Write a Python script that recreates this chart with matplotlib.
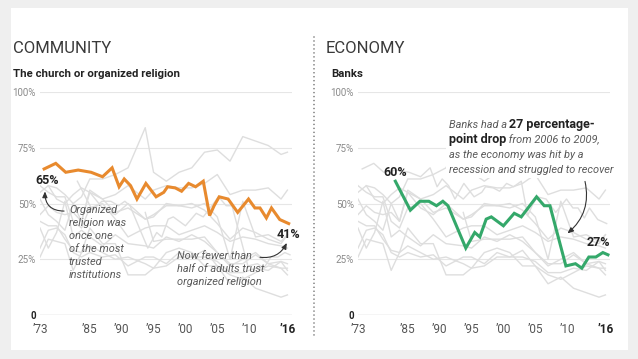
import numpy as np
import matplotlib.pyplot as plt
import matplotlib.transforms as mtransforms
from matplotlib.patches import Rectangle
from matplotlib.lines import Line2D

plt.rcParams['font.family'] = ['Roboto', 'DejaVu Sans']

# the chart squeezes the years before 1985
scale_years = [1900, 1973, 1985, 2100]
scale_pos = [1929.66, 1977.19, 1985, 2100]

tick_years = [1973, 1985, 1990, 1995, 2000, 2005, 2010, 2016]
tick_labels = ["\u201973", "\u201985", "\u201990", "\u201995", "\u201900", "\u201905", "\u201910", "\u201916"]

# highlighted series (share of adults with a great deal / quite a lot of confidence)
church_years = [1974.0, 1976.8, 1979.2, 1982.2, 1985.2, 1987.0, 1988.5, 1989.6, 1990.4, 1991.4,
                1992.4, 1993.8, 1995.4, 1996.6, 1997.2, 1998.4, 1999.4, 2000.5, 2001.6, 2002.8,
                2003.8, 2004.5, 2005.3, 2006.7, 2008.2, 2009.9, 2010.9, 2011.7, 2012.7, 2013.5,
                2014.8, 2016.2]
church = [65.5, 68, 64, 65, 64, 62, 66, 57.5, 61, 58, 52, 59, 53, 55, 57.5, 57, 55.5, 59, 57.5, 60,
          44.6, 49, 53, 52, 46, 52, 48, 48, 43.5, 48, 42.8, 41]

bank_years = [1982.0, 1985.4, 1986.9, 1988.3, 1989.5, 1990.5, 1991.3, 1994.1, 1995.5, 1996.3,
              1997.3, 1998.1, 2000.0, 2001.7, 2002.8, 2005.2, 2006.4, 2007.3, 2009.8, 2011.3,
              2012.3, 2013.4, 2014.5, 2015.6, 2016.4]
banks = [60, 47, 51, 51, 49, 51, 49, 30, 37, 35, 43, 44, 40, 45.6, 44, 53, 49, 49, 22, 23, 21,
         26, 26, 28, 27]

# other institutions, drawn in grey
grey_years = [1973, 1975, 1977, 1979, 1981, 1983, 1985, 1987, 1989, 1991, 1993.7, 1995, 1997,
              1999, 2001, 2003, 2005, 2007, 2009, 2011, 2013, 2015, 2016]
military = [np.nan, 58, 57, 54, 50, 53, 61, 61, 63, 66, 84, 64, 60, 64, 66, 73, 74, 69, 80, 78, 76, 72, 73]
police = [55, 58, 52, 50, 54, 57, 55, 52, 54, 58, 52, 56, 58, 57, 57, 59, 63, 54, 56, 56, 57, 52, 56]
court = [45, 49, 46, 45, 46, 42, 56, 52, 46, 48, 43, 44, 50, 49, 50, 47, 41, 34, 39, 37, 34, 32, 36]
schools = [58, 55, 53, 53, 42, 39, 48, 50, 43, 35, 39, 40, 40, 36, 38, 40, 37, 33, 35, 34, 32, 31, 30]
papers = [39, 30, 37, 51, 35, 38, 35, 31, 36, 32, 31, 30, 35, 33, 36, 33, 28, 22, 25, 28, 23, 24, 20]
congress = [42, 40, 40, 34, 29, 28, 39, 32, 32, 18, 18, 21, 22, 26, 26, 29, 22, 14, 17, 12, 10, 8, 9]
business = [26, 34, 33, 32, 20, 28, 31, 28, 25, 26, 23, 21, 28, 30, 28, 22, 22, 18, 16, 19, 22, 21, 18]
labor = [30, 38, 39, 36, 28, 26, 28, 26, 27, 22, 26, 26, 23, 28, 26, 26, 24, 19, 19, 21, 20, 24, 23]
tv_news = [np.nan] * 10 + [46, 33, 34, 34, 34, 35, 28, 23, 23, 27, 23, 21, 21]
presidency = [52, 45, 42, 38, 50, 42, 55, 48, 45, 50, 43, 45, 49, 49, 48, 50, 44, 25, 51, 35, 36, 33, 36]

others = [military, police, court, schools, papers, congress, business, labor, tv_news, presidency]

ORANGE = "#e88a2e"
GREEN = "#34a86a"
GREY = "#dedede"


def fwd(x):
    return np.interp(x, scale_years, scale_pos)


def inv(x):
    return np.interp(x, scale_pos, scale_years)


fig = plt.figure(figsize=(6.38, 3.59), dpi=100, facecolor="#efefef")
fig.add_artist(Rectangle((11 / 638, 9 / 359), 617 / 638, 342 / 359, transform=fig.transFigure,
                         facecolor="white", edgecolor="none", zorder=-10))

ax1 = fig.add_axes([40 / 638, 44 / 359, 252 / 638, 223 / 359])
ax2 = fig.add_axes([358 / 638, 44 / 359, 252 / 638, 223 / 359])


def setup(ax):
    ax.set_xscale("function", functions=(fwd, inv))
    ax.set_xlim(1973.24, 2016.72)
    ax.set_ylim(0, 100)
    ax.patch.set_alpha(0)
    for s in ax.spines.values():
        s.set_visible(False)
    for v in [25, 50, 75, 100]:
        ax.axhline(v, color="#e6e6e6", lw=0.8, zorder=1)
    ax.axhline(0, color="#b0b0b0", lw=0.9, zorder=1)
    ax.set_xticks(tick_years)
    ax.set_xticklabels(tick_labels, fontsize=8.5, color="#555555")
    ax.get_xticklabels()[-1].set_fontweight("bold")
    ax.get_xticklabels()[-1].set_color("#222222")
    ax.set_yticks([0, 25, 50, 75, 100])
    ax.set_yticklabels(["0", "25%", "50%", "75%", "100%"], fontsize=7, color="#8a8a8a")
    lab0 = ax.get_yticklabels()[0]
    lab0.set_fontweight("bold")
    lab0.set_color("#222222")
    lab0.set_transform(lab0.get_transform() + mtransforms.ScaledTranslation(-6 / 100, 0, fig.dpi_scale_trans))
    ax.tick_params(axis="both", length=0)
    ax.tick_params(axis="x", pad=6)
    ax.tick_params(axis="y", pad=3)


setup(ax1)
setup(ax2)

for vals in others:
    ax1.plot(grey_years, vals, color=GREY, lw=1, zorder=2)
    ax2.plot(grey_years, vals, color=GREY, lw=1, zorder=2)
ax1.plot(bank_years, banks, color=GREY, lw=1, zorder=2)
ax2.plot(church_years, church, color=GREY, lw=1, zorder=2)

ax1.plot(church_years, church, color=ORANGE, lw=2.2, zorder=4, solid_joinstyle="miter")
ax2.plot(bank_years, banks, color=GREEN, lw=2.2, zorder=4, solid_joinstyle="miter")

# titles
fig.text(13 / 638, 1 - 52.7 / 359, "COMMUNITY", fontsize=12, color="#3a3a3a", va="baseline")
fig.text(13 / 638, 1 - 76.7 / 359, "The church or organized religion", fontsize=8.2, fontweight="bold",
         color="#222222", va="baseline")
fig.text(326 / 638, 1 - 52.7 / 359, "ECONOMY", fontsize=12, color="#3a3a3a", va="baseline")
fig.text(331 / 638, 1 - 76.7 / 359, "Banks", fontsize=8.2, fontweight="bold", color="#222222", va="baseline")

fig.add_artist(Line2D([313.5 / 638, 313.5 / 638], [24 / 359, 324 / 359], transform=fig.transFigure,
                      color="#666666", lw=1.1, dashes=(0.1, 2.5), dash_capstyle="round"))

note = dict(fontsize=7.9, style="italic", color="#5a5a5a", zorder=5)
bold = dict(fontsize=9, fontweight="bold", color="#222222", zorder=5)
arrow = dict(arrowstyle="-|>,head_length=0.35,head_width=0.15", color="#333333", lw=0.8,
             shrinkA=0, shrinkB=0)

# left panel notes
ax1.text(1974.8, 60.1, "65%", ha="center", va="center", **bold)
ax1.annotate("", xy=(1974.2, 55.4), xytext=(1978.8, 46.6),
             arrowprops=dict(connectionstyle="arc3,rad=-0.5", **arrow))
ax1.text(1979.96, 49.5, "Organized\nreligion was\nonce one\nof the most\ntrusted\ninstitutions",
         ha="left", va="top", linespacing=1.38, **note)
ax1.text(1998.75, 28.8, "Now fewer than\nhalf of adults trust\norganized religion",
         ha="left", va="top", linespacing=1.38, **note)
ax1.annotate("", xy=(2015.9, 32.3), xytext=(2011.7, 25.9),
             arrowprops=dict(connectionstyle="arc3,rad=0.35", **arrow))
ax1.text(2016.15, 36.3, "41%", ha="center", va="center", **bold)

# right panel notes
ax2.text(1982.0, 63.7, "60%", ha="center", va="center", **bold)
ax2.text(2014.84, 32.3, "27%", ha="center", va="center", **bold)
ax2.add_patch(Rectangle((446 / 638, 1 - 178 / 359), 174 / 638, 62 / 359, transform=fig.transFigure,
                        facecolor="white", edgecolor="none", zorder=3, clip_on=False))
ax2.annotate("", xy=(2010.05, 36.6), xytext=(2012.8, 59.9),
             arrowprops=dict(connectionstyle="arc3,rad=-0.3", **arrow))

renderer = fig.canvas.get_renderer()
note_lines = [
    (83.7, [("Banks had a ", note), ("27 percentage-", bold)]),
    (77.0, [("point drop", bold), (" from 2006 to 2009,", note)]),
    (70.3, [("as the economy was hit by a", note)]),
    (63.8, [("recession and struggled to recover", note)]),
]
for y, pieces in note_lines:
    dx = 0
    for s, style in pieces:
        tr = ax2.transData + mtransforms.ScaledTranslation(dx / fig.dpi, 0, fig.dpi_scale_trans)
        t = ax2.text(1991.4, y, s, transform=tr, ha="left", va="baseline", **style)
        dx += t.get_window_extent(renderer).width

fig.savefig("out.png", dpi=100, facecolor=fig.get_facecolor())
